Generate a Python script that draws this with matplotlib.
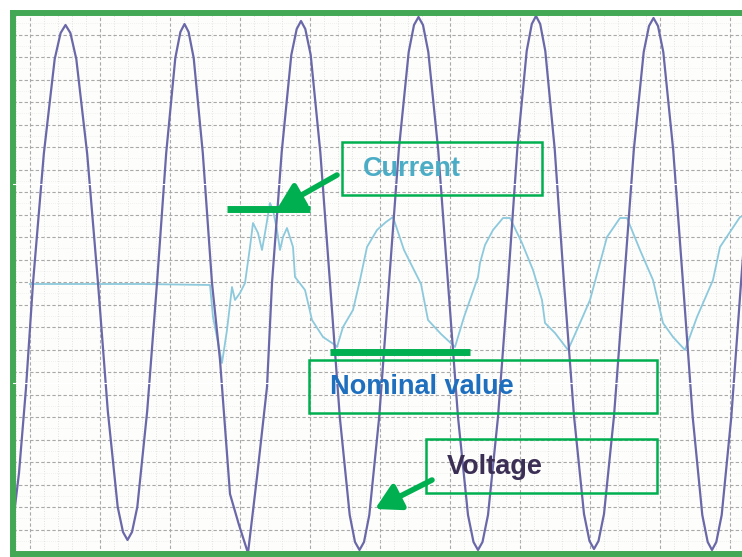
import numpy as np
import matplotlib
matplotlib.use('Agg')
import matplotlib.pyplot as plt
from matplotlib.patches import Rectangle

plt.rcParams['font.family'] = ['Liberation Sans', 'DejaVu Sans']

# scope trace (sample index, screen units)
volt_t = [0, 6, 13, 20, 30.8, 41.7, 47.6, 52.5, 57.4, 63.3, 74.2, 85,
          94.8, 104.7, 110, 114.5, 119, 124.3, 134.2, 144, 153.2, 162.3, 167.4, 171.5,
          175.6, 180.7, 189.8, 199, 207, 217, 226, 235, 244, 254, 259,
          268.7, 278.3, 283.7, 288, 292.3, 297.7, 307.3, 317, 326.8, 336.7, 342, 346.5,
          351, 356.3, 366.2, 376, 385.8, 395.7, 401, 405.5, 410, 415.3, 425.2, 435,
          445, 455, 460.5, 465, 469.5, 475, 485, 495, 504.3, 513.7, 518.8, 523,
          527.2, 532.3, 541.7, 551, 561, 571, 576.5, 581, 585.5, 591, 601, 611,
          620.8, 630.7, 636, 640.5, 645, 650.3, 660.2, 670, 679.7, 689.3, 694.7, 699,
          703.3, 708.7, 718.3, 728, 738, 748]
volt_v = [-240, -190, -105, 0, 129, 224, 250, 258, 250, 224, 129, 0,
          -128, -224, -249, -257, -249, -224, -128, 0, 130, 225, 251, 259,
          251, 225, 130, 0, -77, -211, -242, -270, -194, -104, 0,
          131, 228, 254, 262, 254, 228, 131, 0, -134, -232, -259, -267,
          -259, -232, -134, 0, 133, 231, 258, 266, 258, 231, 133, 0,
          -134, -232, -259, -267, -259, -232, -134, 0, 134, 232, 259, 267,
          259, 232, 134, 0, -133, -231, -258, -266, -258, -231, -133, 0,
          133, 231, 257, 265, 257, 231, 133, 0, -134, -232, -259, -267,
          -259, -232, -134, 0, 133, 232]

cur_t = [17, 60, 130, 197, 200, 209, 214, 219, 222, 227, 232, 237, 240, 245, 249, 252,
         257, 260, 264, 267, 270, 274, 280, 282, 292, 299, 310, 322, 324, 330, 340, 347,
         354, 364, 373, 380, 391, 408, 415, 428, 442, 451, 465, 467, 472, 480, 490, 497,
         509, 520, 529, 532, 542, 555, 567, 577, 587, 594, 607, 614, 627, 640, 650, 660,
         672, 684, 700, 707, 727, 740]
cur_i = [-1, -1, -1, -2, -34, -80, -47, -4, -17, -10, 0, 36, 60, 50, 33, 50,
         80, 73, 53, 33, 46, 55, 36, 6, -7, -37, -54, -62, -64, -44, -27, 3,
         36, 53, 61, 66, 33, -1, -37, -51, -64, -34, 6, 20, 38, 53, 65, 65,
         40, 13, -17, -40, -50, -67, -40, -17, 20, 46, 65, 65, 33, 3, -40, -54,
         -67, -34, 3, 36, 66, 70]

labels = ['Current', 'Nominal value', 'Voltage']
label_colors = ['#4bacc6', '#1f6fbf', '#3b2f55']
green = '#00b050'

fig = plt.figure(figsize=(7.42, 5.57), dpi=100)
fig.patch.set_facecolor('white')
ax = fig.add_axes([13 / 742, 3 / 557, 735 / 742, 541.5 / 557])
ax.set_facecolor('#fdfdfb')
ax.set_xlim(0, 735)
ax.set_ylim(-271, 270.5)

# scope grid
ax.set_xticks(np.arange(17, 735, 70))
ax.set_xticks(np.arange(3, 735, 14), minor=True)
ax.set_yticks(np.arange(248.5, -270, -22.5))
ax.set_yticks(np.arange(259.75, -270, -22.5), minor=True)
ax.tick_params(which='both', length=0, labelbottom=False, labelleft=False)
ax.grid(which='major', color='#a9a9a9', linestyle=(0, (3, 2)), linewidth=0.8)
ax.grid(which='minor', axis='x', color='#d8d8d8', linestyle=(0, (1, 2)), linewidth=0.6)
ax.grid(which='minor', axis='y', color='#e6e6e6', linestyle=(0, (1, 2)), linewidth=0.5)
ax.set_axisbelow(True)

ax.plot(cur_t, cur_i, color='#8cc9dc', lw=1.3, zorder=2)
ax.plot(volt_t, volt_v, color='#6a68a8', lw=1.6, zorder=2)

# white streaks crossing the traces in the screenshot
for yy in (99, -100):
    ax.axhline(yy, color='white', lw=0.8, zorder=3)

for s in ax.spines.values():
    s.set_color('#43a855')
    s.set_linewidth(4.3)

# annotations
ax.plot([214, 297], [74, 74], color=green, lw=5, solid_capstyle='butt', zorder=4)
ax.plot([317, 457], [-69, -69], color=green, lw=5, solid_capstyle='butt', zorder=4)

boxes = [(329, 88, 200, 53), (296, -130, 348, 53), (413, -210, 231, 54)]
text_pos = [(350, 114), (317, -104), (434, -184)]
for (bx, by, bw, bh), (tx, ty), lab, col in zip(boxes, text_pos, labels, label_colors):
    ax.add_patch(Rectangle((bx, by), bw, bh, fill=False, edgecolor=green, lw=1.8, zorder=4))
    ax.text(tx, ty, lab, color=col, fontsize=19.5, fontweight='bold',
            ha='left', va='center', zorder=5)

arrow = dict(arrowstyle='-|>,head_length=0.75,head_width=0.42', lw=4, color=green,
             mutation_scale=20, shrinkA=0, shrinkB=0)
ax.annotate('', xy=(264, 74), xytext=(324, 108), arrowprops=arrow, zorder=5)
ax.annotate('', xy=(362, -226), xytext=(419, -197), arrowprops=arrow, zorder=5)

fig.savefig('out.png', dpi=100)
